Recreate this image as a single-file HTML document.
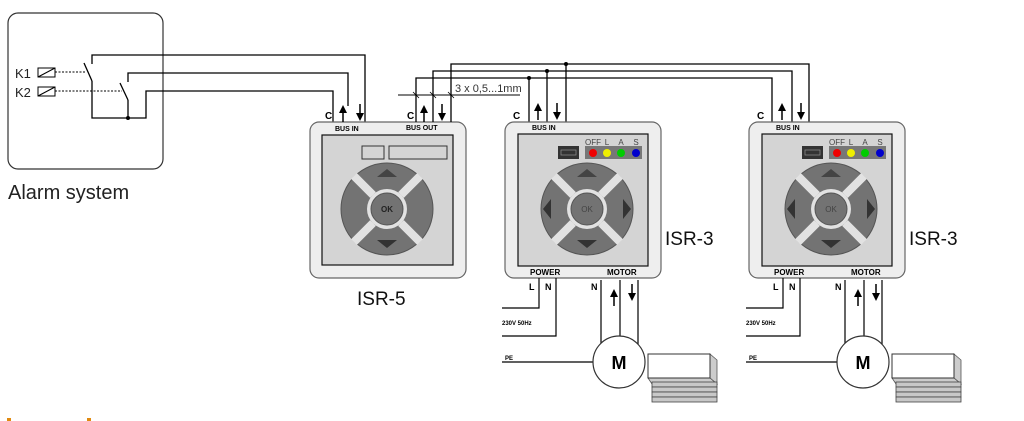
<!DOCTYPE html>
<html><head><meta charset="utf-8"><style>html,body{margin:0;padding:0;background:#fff}svg{display:block}</style></head><body>
<svg width="1024" height="421" viewBox="0 0 1024 421" xmlns="http://www.w3.org/2000/svg" font-family="Liberation Sans, sans-serif">
<defs>
<g id="pad">
<circle cx="0" cy="0" r="46" fill="#737373" stroke="#555"/>
<g stroke="#e2e2e2" stroke-width="8"><line x1="-33" y1="-33" x2="-14" y2="-14"/><line x1="33" y1="-33" x2="14" y2="-14"/><line x1="-33" y1="33" x2="-14" y2="14"/><line x1="33" y1="33" x2="14" y2="14"/></g>
<circle r="20" fill="#e2e2e2"/><circle r="16" fill="#737373" stroke="#555"/>
<polygon points="-10,-32 10,-32 0,-40" fill="#444"/><polygon points="-10,31 10,31 0,39" fill="#333"/>
</g>
<g id="arr"><line x1="0" y1="0" x2="0" y2="-14" stroke="#000" stroke-width="1.5"/><polygon points="-4,-9 4,-9 0,-17" fill="#000"/></g>
<g id="dev">
<rect x="505" y="122" width="156" height="156" rx="9" fill="#eee" stroke="#666" stroke-width="1.2"/>
<rect x="518" y="134" width="130" height="132" fill="#d4d4d4" stroke="#111" stroke-width="1.2"/>
<rect x="558" y="146" width="21" height="13" fill="#333"/>
<rect x="561" y="150" width="15" height="5" fill="none" stroke="#888" stroke-width="0.8"/>
<rect x="585" y="146" width="57" height="13" fill="#777"/>
<circle cx="593" cy="153" r="4" fill="#e00"/><circle cx="607" cy="153" r="4" fill="#ee0"/><circle cx="621" cy="153" r="4" fill="#0c0"/><circle cx="636" cy="153" r="4" fill="#00c"/>
<g font-size="8" fill="#444" text-anchor="middle"><text x="593" y="145">OFF</text><text x="607" y="145">L</text><text x="621" y="145">A</text><text x="636" y="145">S</text></g>
<g transform="translate(587,209)"><use href="#pad"/>
<polygon points="-36,-10 -36,10 -44,0" fill="#333"/><polygon points="36,-10 36,10 44,0" fill="#333"/>
<text x="0" y="3" font-size="8" text-anchor="middle" fill="#444">OK</text></g>
<text x="530" y="275" font-size="8" font-weight="bold">POWER</text>
<text x="607" y="275" font-size="8" font-weight="bold">MOTOR</text>
<text x="532" y="130" font-size="7" font-weight="bold">BUS IN</text>
<text x="513" y="119" font-size="10" font-weight="bold">C</text>
<use href="#arr" transform="translate(538,120)"/><use href="#arr" transform="translate(557,103) rotate(180)"/>
<text x="665" y="245" font-size="19" fill="#111">ISR-3</text>
<g stroke="#000" stroke-width="1.2" fill="none">
<polyline points="539,278 539,308 502,308"/><polyline points="556,278 556,336 502,336"/>
<line x1="502" y1="362" x2="593" y2="362"/>
<line x1="601" y1="280" x2="601" y2="345"/><line x1="620" y1="280" x2="620" y2="337"/><line x1="638" y1="280" x2="638" y2="345"/>
</g>
<text x="529" y="290" font-size="9" font-weight="bold">L</text><text x="545" y="290" font-size="9" font-weight="bold">N</text>
<text x="591" y="290" font-size="9" font-weight="bold">N</text>
<use href="#arr" transform="translate(614,306)"/><use href="#arr" transform="translate(632,284) rotate(180)"/>
<text x="502" y="325" font-size="6" font-weight="bold">230V 50Hz</text>
<text x="505" y="360" font-size="6" font-weight="bold">PE</text>
<circle cx="619" cy="362" r="26" fill="#fff" stroke="#333" stroke-width="1.2"/>
<text x="619" y="369" font-size="18" font-weight="bold" text-anchor="middle">M</text>
<polygon points="710,354 717,360 717,384 710,378" fill="#ccc" stroke="#555" stroke-width="0.8"/>
<polygon points="648,378 710,378 717,384 652,384" fill="#ccc" stroke="#555" stroke-width="0.8"/>
<rect x="648" y="354" width="62" height="24" fill="#fff" stroke="#333" stroke-width="1"/>
<g fill="#c8c8c8" stroke="#444" stroke-width="0.8">
<rect x="652" y="382" width="65" height="5"/><rect x="652" y="387" width="65" height="5"/><rect x="652" y="392" width="65" height="5"/><rect x="652" y="397" width="65" height="5"/></g>
</g>
</defs>

<rect x="8" y="13" width="155" height="156" rx="10" fill="#fff" stroke="#333" stroke-width="1.2"/>
<text x="8" y="199" font-size="20" fill="#222">Alarm system</text>
<text x="15" y="78" font-size="13" fill="#222">K1</text><text x="15" y="97" font-size="13" fill="#222">K2</text>
<g stroke="#000" stroke-width="1" fill="none">
<rect x="38" y="68" width="17" height="9"/><line x1="38" y1="77" x2="55" y2="68"/>
<rect x="38" y="87" width="17" height="9"/><line x1="38" y1="96" x2="55" y2="87"/>
<line x1="55" y1="72" x2="85" y2="72" stroke-dasharray="2,1.5"/>
<line x1="55" y1="91" x2="122" y2="91" stroke-dasharray="2,1.5"/>
</g>
<g stroke="#000" stroke-width="1.3" fill="none">
<polyline points="92,64 92,55 365,55 365,122"/>
<line x1="84" y1="63" x2="92" y2="81"/>
<polyline points="92,81 92,118 146,118 146,91 333,91 333,122"/>
<polyline points="128,82 128,73 348,73 348,106"/>
<line x1="120" y1="83" x2="128" y2="100"/>
<line x1="128" y1="100" x2="128" y2="118"/>
</g>
<circle cx="128" cy="118" r="2" fill="#000"/>

<rect x="310" y="122" width="156" height="156" rx="9" fill="#eee" stroke="#666" stroke-width="1.2"/>
<rect x="322" y="135" width="131" height="130" fill="#d4d4d4" stroke="#111" stroke-width="1.2"/>
<rect x="362" y="146" width="22" height="13" fill="#d4d4d4" stroke="#333"/>
<rect x="389" y="146" width="58" height="13" fill="#d4d4d4" stroke="#333"/>
<g transform="translate(387,209)"><use href="#pad"/>
<text x="0" y="3" font-size="8" font-weight="bold" text-anchor="middle" fill="#222">OK</text></g>
<text x="357" y="305" font-size="19" fill="#111">ISR-5</text>
<text x="335" y="131" font-size="7" font-weight="bold">BUS  IN</text>
<text x="406" y="130" font-size="7" font-weight="bold">BUS  OUT</text>
<text x="325" y="119" font-size="10" font-weight="bold">C</text>
<text x="407" y="119" font-size="10" font-weight="bold">C</text>
<use href="#arr" transform="translate(343,122)"/><use href="#arr" transform="translate(360,104) rotate(180)"/>
<use href="#arr" transform="translate(424,122)"/><use href="#arr" transform="translate(442,104) rotate(180)"/>

<g stroke="#000" stroke-width="1.3" fill="none">
<polyline points="416,122 416,78 772,78 772,122"/>
<polyline points="433,122 433,71 792,71 792,122"/>
<polyline points="451,122 451,64 809,64 809,122"/>
<line x1="529" y1="78" x2="529" y2="122"/><line x1="547" y1="71" x2="547" y2="122"/><line x1="566" y1="64" x2="566" y2="122"/>
<line x1="398" y1="95" x2="520" y2="95" stroke-width="1"/>
<line x1="413" y1="92" x2="419" y2="98" stroke-width="0.8"/><line x1="430" y1="92" x2="436" y2="98" stroke-width="0.8"/><line x1="448" y1="92" x2="454" y2="98" stroke-width="0.8"/>
</g>
<circle cx="529" cy="78" r="2" fill="#000"/><circle cx="547" cy="71" r="2" fill="#000"/><circle cx="566" cy="64" r="2" fill="#000"/>
<text x="455" y="92" font-size="11" fill="#333">3 x 0,5...1mm</text>

<use href="#dev"/>
<use href="#dev" transform="translate(244,0)"/>

<rect x="7" y="418" width="4" height="3" fill="#e08a10"/>
<rect x="87" y="418" width="4" height="3" fill="#e08a10"/>
</svg>
</body></html>
